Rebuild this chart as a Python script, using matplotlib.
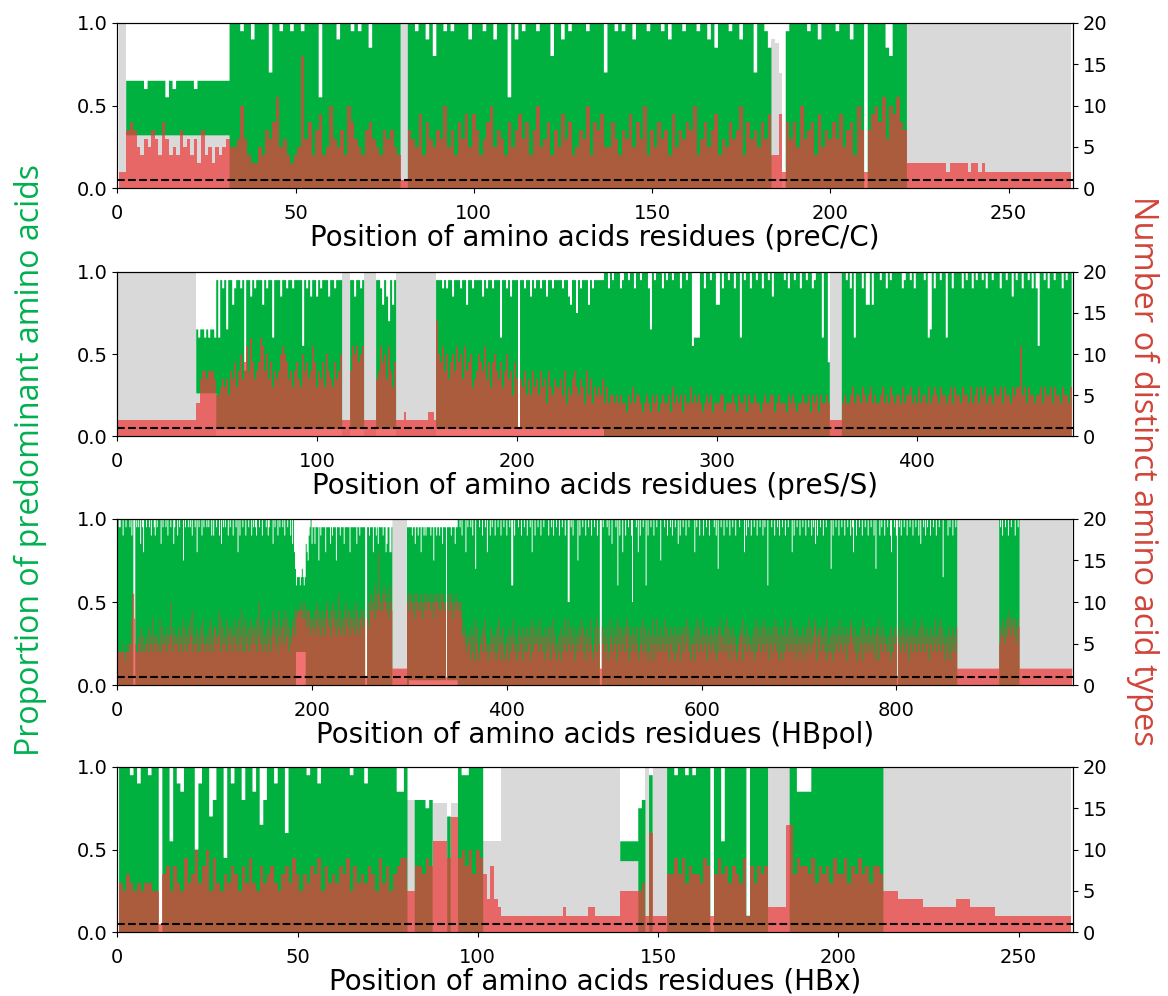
import numpy as np
import matplotlib
matplotlib.use('Agg')
import matplotlib.pyplot as plt

# one character per residue (base 36)
# *_top : top of the predominant amino acid bar, in 1/20 of the left axis
# *_cnt : number of distinct amino acid types (right axis)
# *_gap : gray blocks (first pos, last pos, height)
# *_blank : empty band under the green bar (first pos, last pos, height)

# preC/C
prec_top = ("00dddddcdd" "dddbdcdddd" "dcdddddddd" "dkkkjkkikk" "kkekkjkkjk"
            "kjkkkkbkkk" "kikkkjkjkk" "hkkkkkkkk0" "0kkjkkikgk" "kjkjkkkkik"
            "kkjkkikkkb" "kikjkkkjkk" "kgkkikjkkk" "kjkkkkekkj" "kjkkikkkjk"
            "kkjkikkkjk" "kkjkkikhkk" "kjkkikkkek" "kjh0000jkk" "kkkjkkikkk"
            "kjkkkikkk0" "kkkkkhgkkk" "k000000000" "0000000000" "0000000000"
            "0000000000" "0000000")
prec_cnt = ("2278754657" "6486454756" "4637453545" "6556a64335" "4768b56434"
            "5g6847945a" "6574a86547" "8654767541" "1765948657" "6a57486959"
            "7468a57648" "5796847a56" "8475968457" "6a48795586" "4769586a47"
            "5867495768" "7a46857946" "5867a48675" "8694492868" "5a67849576"
            "8695784a72" "79a8b6a9b8" "7333333333" "3323333323" "3232222222"
            "2222222222" "2222222")
prec_gap = [(1, 2, 1.0), (3, 31, 0.32), (80, 81, 1.0), (184, 184, 0.9),
            (185, 185, 0.88), (186, 186, 0.7), (222, 267, 1.0)]
prec_blank = []

# preS/S
pres_top = ("0000000000" "0000000000" "0000000000" "000000000d" "cddcdcddcj"
            "cjijdjjgij" "jij8jjhjij" "jjgjijjcjj" "jhjjijjijj" "jjbjijhjjh"
            "jijjjhjjij" "jj0000jjhj" "jij000000j" "jigjhejgj0" "0000000000"
            "000000000j" "jjijijjhjj" "jijjgjjijj" "jjhjijjijj" "jcjjijhjjj"
            "0jjijjhjij" "jijjhjjijj" "jjijjhgjjf" "jijjjgjijj" "jjjkkikjkk"
            "kijkkjkkik" "kjkkkidkjk" "kkikjkkjkk" "kikkjkkbcc" "ckkikkjkkg"
            "gkikkjkkik" "kckjkkikkj" "kkikkjkhkk" "kkkjkikkjk" "kikkjkkijk"
            "kkckk90000" "00kkjkikck" "kkikggkgkk" "kjkkikjkkk" "kkijkkjkik"
            "kkkjkcdkik" "kjkkckkikk" "kkikjkkikj" "kkjkikkjkk" "kikkjkkhkj"
            "kkikkjkiki" "bkkjkikkjk" "kkikjkk")
pres_cnt = ("2222222222" "2222222222" "2222222222" "2222222224" "4788788875"
            "5676758796" "8a79b8c978" "9cb8a79687" "8aba978689" "76a8978b96"
            "8796a87697" "8a22228bab" "9ab2222227" "8b9a7b8692" "2223222222"
            "222223332e" "a9b8a79a8b" "9a7b89a678" "a98b7969a8" "7968a78597"
            "1768575867" "5867486576" "6758465786" "5764857465" "6574645545"
            "4544354645" "5434543545" "3454453645" "4535446454" "5434545344"
            "4553444543" "5445354454" "4345445534" "5444354543" "4454453545"
            "3544542222" "2245445645" "5465456454" "4564546545" "5464556454"
            "6455464565" "4655456465" "5465546456" "4656455465" "5646554656"
            "6b56465545" "5646556465" "5465546")
pres_gap = [(1, 39, 1.0), (40, 49, 0.26), (113, 116, 1.0), (124, 129, 1.0),
            (140, 159, 1.0), (357, 362, 1.0)]
pres_blank = [(50, 243, 0.045)]

# HBpol
pol_top = ("kjjkkikkjk" "kkjkik00kj" "kjkhkjgkkj" "kkjkikkjik" "jkkkhkjkkj"
           "kikkjkkhjk" "kikjkkkfkj" "kkjkjkikkj" "kgkjkkikjk" "kjkjkkikik"
           "kjkkikhkjk" "jkkikjkkik" "kjkgkikkjk" "kikkjkkikj" "kjikkjkkik"
           "kkjkijkkkh" "kjkkikjkkj" "kikkjkkikh" "kgecdddcde" "dcdhgfijkh"
           "jjhjjjfjij" "jjjgjjjjhj" "ijjjfjjjij" "jjhjjjjjgj" "jjjjjhjjij"
           "jjjj00jjij" "jjgjjijhjj" "jjijjghjjg" "gj00000000" "0000000jjj"
           "jjijjhjjij" "jgjjijijjj" "jijjfjjijj" "ijjhjjj0jj" "jjijjjhjjk"
           "kjkikkkgkj" "kkjkikkekk" "kjkkikkjkg" "kkikjkkikk" "jkkikkjkki"
           "kkjkcckikk" "kjkkikkjkk" "ikkjkgkkik" "kjkkikkjkk" "kkikkjkikk"
           "jkkikkjkki" "kkaakjkikk" "kkfkikkjkk" "ikkjkkikkj" "kkikk00kjk"
           "kkjkikkhkk" "kjkckikkgk" "kikkjkkiak" "kkjkgkikkj" "kkckikkjkk"
           "ikkjkkkfkk" "kjkkikkjki" "kkjkkhkikk" "jkkikkjkkk" "kkgkjkkikk"
           "kikkjkkikk" "kkjkikekkj" "kkikkjkkik" "kjkkikkkjk" "kkkgkikjkk"
           "ikkjkkikkj" "kkikjkkckk" "kjkkikkjki" "kkjkkikkjk" "kkgkikkjkk"
           "ikkjkkikkj" "kkikjkhkik" "kjkkikkjkk" "kkekikkjkk" "ikkjkkikkj"
           "kkikjgkkik" "kjkkikkjkk" "ikkjkkikek" "kkikjkkikk" "jkkigkkjki"
           "0kjkikkjkk" "ikkjkkikkj" "kkikhkkjki" "kjkkikkjkk" "ikkjkkkdkk"
           "kkikjkkikk" "jk00000000" "0000000000" "0000000000" "0000000000"
           "00000kjkik" "kjkkikkjkk" "kikkjk0000" "0000000000" "0000000000"
           "0000000000" "0000000000" "0000000000")
pol_cnt = ("4444544344" "54558bb854" "4564746546" "5475648565" "6458475656"
           "4756a64765" "5647564857" "6475869465" "5746475865" "4657485647"
           "7566948576" "5847657468" "6574856947" "4865748567" "7584a65748"
           "5647586479" "6857496758" "7596847568" "7698999a98" "9a89799687"
           "8796a87968" "7968a97869" "8a7968b796" "7869a87968" "9786a97869"
           "87981187a9" "b9ac8b9gb9" "a9bcab9a8c" "a922222222" "2222222a9b"
           "ab9ab8ab9a" "9ba8ab9aba" "a9ba8abab9" "ab9aba91ab" "9ab8a9aba9"
           "a9a8667546" "5637463857" "4365746845" "3547564637" "4856375345"
           "6374658465" "3746573647" "4657384756" "5748564637" "6475375864"
           "5364736485" "6485746573" "5647568746" "3756485347" "5847522756"
           "4753486547" "5638574756" "4786374657" "6475347584" "5746374658"
           "3658465746" "5847563756" "4736475637" "6475864735" "5637584756"
           "4856375647" "5647364786" "4657485736" "5746534657" "6385647564"
           "5647384756" "4758475637" "5647584736" "4736485647" "5847563756"
           "4657365748" "5746578637" "6475647384" "5647364756" "4856475637"
           "5687564736" "4657385746" "5746574637" "6385647564" "5647364756"
           "1756485647" "5637564856" "4657485746" "5736574658" "6475847563"
           "5647364756" "4722222222" "2222222222" "2222222222" "2222222222"
           "2222257686" "7586978687" "6857872222" "2222222222" "2222222222"
           "2222222222" "2222222222" "2222222222")
pol_gap = [(283, 297, 1.0), (863, 905, 1.0), (927, 980, 1.0)]
pol_blank = [(184, 193, 0.2), (300, 349, 0.03)]

# HBx
hbx_top = ("kkkjkikkjk" "k0kkbkihkk" "kaikkegkk9" "kikkgkkhkd" "gkkikkckkk"
           "kkjkkikkkk" "kkkkjkkkik" "kkkkkkkhhk" "00gggfg000" "0e00kjjkkk"
           "k000000000" "0000000000" "0000000000" "000000000b" "bbbbfg0j00"
           "00kkjkkjkj" "kkkk0kkbkk" "kkkk2kkkkk" "000000kkhh" "hhkkkkkkkk"
           "kkkkkkkkkk" "kk00000000" "0000000000" "0000000000" "0000000000"
           "0000000000" "0000")
hbx_cnt = ("6576565665" "5178586596" "7a68a59657" "6875869658" "6786578697"
           "5768795867" "6879586768" "7596857899" "5588798bbb" "b9ee9a8a7a"
           "9748432222" "2222222222" "2223222222" "3322222225" "5555562c22"
           "2277979687" "7698279786" "8769286878" "33333dd798" "8796878697"
           "7968797868" "8755554444" "4443333333" "3344443333" "3332222222"
           "2222222222" "2222")
hbx_gap = [(81, 82, 0.8), (88, 91, 0.78), (93, 94, 0.78), (102, 106, 0.55),
           (107, 139, 1.0), (140, 144, 0.43), (147, 147, 1.0), (149, 152, 1.0),
           (181, 186, 1.0), (213, 264, 1.0)]
hbx_blank = []

panels = [
    ("preC/C", prec_top, prec_cnt, prec_gap, prec_blank, 268, np.arange(0, 251, 50)),
    ("preS/S", pres_top, pres_cnt, pres_gap, pres_blank, 478, np.arange(0, 401, 100)),
    ("HBpol", pol_top, pol_cnt, pol_gap, pol_blank, 981, np.arange(0, 801, 200)),
    ("HBx", hbx_top, hbx_cnt, hbx_gap, hbx_blank, 265, np.arange(0, 251, 50)),
]

GREEN = '#00b140'
RED = '#ed3b3b'
GRAY = '#d9d9d9'

fig = plt.figure(figsize=(11.68, 9.96), dpi=100)
boxes = [(0.811, 0.977), (0.562, 0.727), (0.312, 0.479), (0.064, 0.230)]

for (name, top, cnt, gap, blank, xmax, xt), (b, t) in zip(panels, boxes):
    ax = fig.add_axes([0.1004, b, 0.818, t - b])
    g = np.array([int(c, 36) for c in top]) / 20
    n = np.array([int(c, 36) for c in cnt])
    edges = np.arange(len(g) + 1) + 0.5
    gray = np.zeros(len(g))
    base = np.zeros(len(g))
    for a, e, h in gap:
        gray[a - 1:e] = h
    for a, e, h in blank:
        base[a - 1:e] = h
    bottom = np.maximum(gray, base)

    ax.stairs(gray, edges, baseline=0, fill=True, color=GRAY, lw=0)
    ax.stairs(np.maximum(g, bottom), edges, baseline=bottom, fill=True, color=GREEN, lw=0)
    ax.set_xlim(0, xmax)
    ax.set_ylim(0, 1)
    ax.set_xticks(xt)
    ax.set_yticks([0, 0.5, 1.0])
    ax.set_yticklabels(['0.0', '0.5', '1.0'])
    ax.tick_params(labelsize=14)
    ax.tick_params(axis='x', pad=8)
    ax.set_xlabel(f'Position of amino acids residues ({name})', fontsize=20, labelpad=0.5)

    ax2 = ax.twinx()
    m = len(n)
    ax2.stairs(n, np.arange(m + 1) + 0.5, baseline=0, fill=True, color=RED, alpha=0.72, lw=0)
    ax2.axhline(1, ls='--', color='black', lw=1.5)
    ax2.set_ylim(0, 20)
    ax2.set_yticks([0, 5, 10, 15, 20])
    ax2.tick_params(labelsize=14)

fig.text(0.026, 0.538, 'Proportion of predominant amino acids', rotation=90,
         color='#00b050', fontsize=23, family='Open Sans', ha='center', va='center')
fig.text(0.978, 0.527, 'Number of distinct amino acid types', rotation=-90,
         color='#d0453a', fontsize=23.5, family='Open Sans', ha='center', va='center')

fig.savefig('out.png', dpi=100)
